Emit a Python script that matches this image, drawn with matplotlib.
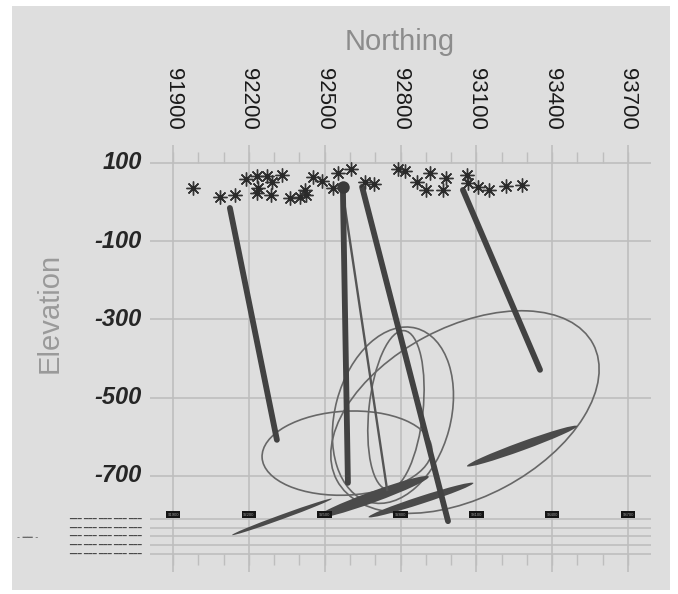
import matplotlib
matplotlib.use("Agg")
import matplotlib.pyplot as plt
from matplotlib.patches import Circle, Rectangle
from matplotlib.transforms import Affine2D

plt.rcParams["font.family"] = ["Liberation Sans", "DejaVu Sans"]

BG = "#DEDEDE"
GRID = "#BEBEBE"
DARK = "#424242"
THIN = "#676767"

# section axes
x_ticks = [91900, 92200, 92500, 92800, 93100, 93400, 93700]
x_minor = [91900 + 100 * k for k in range(19)]
y_ticks = [100, -100, -300, -500, -700]
y_lower = [-810, -833, -855, -878, -900]

# collar / surface points (northing, elevation)
pt_n = [91979, 92086, 92145, 92189, 92232, 92272, 92292, 92331, 92236, 92232,
        92288, 92363, 92402, 92422, 92426, 92454, 92489, 92533, 92553, 92604,
        92659, 92695, 92790, 92818, 92917, 92865, 92901, 92980, 92968, 93063,
        93067, 93106, 93150, 93217, 93281]
pt_z = [36, 13, 18, 59, 67, 67, 51, 69, 36, 23,
        18, 10, 13, 31, 18, 64, 54, 36, 74, 85,
        51, 46, 85, 80, 74, 51, 31, 62, 31, 69,
        49, 39, 31, 41, 44]

# drill traces: start / end
hole_n0 = [92125, 92572, 92648, 93047]
hole_z0 = [-15, 39, 39, 31]
hole_n1 = [92311, 92592, 92988, 93352]
hole_z1 = [-608, -718, -816, -429]

# thin trace
trace_n = [92580, 92747]
trace_z = [-13, -736]

# error ellipses: centre, semi-axes (northing units, true scale), angle
ell_n = [92588, 92782, 92770, 93055]
ell_z = [-642, -532, -545, -537]
ell_a = [336, 316, 356, 574]
ell_b = [166, 107, 229, 336]
ell_ang = [3, 84, 75, 28]

# flat discs seen edge-on
disc_n = [92331, 92691, 92881, 93281]
disc_z = [-805, -754, -762, -624]
disc_a = [210, 235, 218, 232]
disc_b = [9, 22, 15, 17]
disc_ang = [20, 20, 18, 20]

VE = 1.547  # vertical exaggeration of the section

fig = plt.figure(figsize=(6.78, 5.94), dpi=100)
fig.patch.set_facecolor("white")
fig.patches.append(Rectangle((12 / 678, 1 - 590 / 594), 658 / 678, 584 / 594,
                             transform=fig.transFigure, facecolor=BG,
                             edgecolor="none", zorder=-10))

ax = fig.add_axes([150 / 678, 1 - 572 / 594, 501 / 678, 427 / 594])
ax.patch.set_alpha(0)
ax.set_xlim(91809, 93791)
ax.set_ylim(-946, 146)
for s in ax.spines.values():
    s.set_visible(False)
ax.set_xticks([])
ax.set_yticks([])

# grid
for y in y_ticks + y_lower:
    ax.axhline(y, color=GRID, lw=1.2, zorder=1)
for x in x_ticks:
    ax.axvline(x, color=GRID, lw=1.2, zorder=1)
ax.vlines(x_minor, 100, 128, color=GRID, lw=1.0, zorder=1)
ax.vlines(x_minor, -928, -900, color=GRID, lw=1.0, zorder=1)

# tick labels
xt = ax.get_xaxis_transform()
for x in x_ticks:
    ax.text(x, 1.035, str(x), transform=xt, rotation=-90, ha="center",
            va="bottom", fontsize=16, color="#1A1A1A")
yt = ax.get_yaxis_transform()
for y in y_ticks:
    ax.text(-0.016, y, str(y), transform=yt, ha="right", va="center",
            fontsize=17, fontweight="bold", fontstyle="italic", color="#262626")
for y in y_lower:
    ax.text(-0.016, y, "━━━ ━━━ ━━━ ━━━ ━━━", transform=yt, ha="right",
            va="center", fontsize=5, family="DejaVu Sans", color="#4A4A4A")
for x in x_ticks:
    ax.text(x, -800, str(x), ha="center", va="center", fontsize=3,
            color="#9A9A9A", zorder=6,
            bbox=dict(facecolor="#151515", edgecolor="none", pad=1.1))

fig.text(400 / 678, 1 - 42 / 594, "Northing", ha="center", va="center",
         fontsize=21, color="#8C8C8C")
fig.text(50 / 678, 1 - 313 / 594, "Elevation", ha="center", va="center",
         rotation=90, fontsize=21, color="#9A9A9A")
fig.text(28 / 678, 1 - 537 / 594, "- ━━ -", ha="center", va="center",
         fontsize=6, family="DejaVu Sans", color="#6A6A6A")


def shape(n, z, a, b, ang, **kw):
    tr = Affine2D().scale(a, b).rotate_deg(ang).scale(1, 1 / VE).translate(n, z)
    ax.add_patch(Circle((0, 0), 1, transform=tr + ax.transData, **kw))


for n, z, a, b, ang in zip(ell_n, ell_z, ell_a, ell_b, ell_ang):
    shape(n, z, a, b, ang, facecolor="none", edgecolor=THIN, lw=1.2, zorder=3)
for n, z, a, b, ang in zip(disc_n, disc_z, disc_a, disc_b, disc_ang):
    shape(n, z, a, b, ang, facecolor="#4B4B4B", edgecolor="none", zorder=4)

ax.plot(trace_n, trace_z, color="#555555", lw=1.7, zorder=4)
for n0, z0, n1, z1 in zip(hole_n0, hole_z0, hole_n1, hole_z1):
    ax.plot([n0, n1], [z0, z1], color=DARK, lw=4.2, solid_capstyle="round",
            zorder=5)

ax.plot(pt_n, pt_z, ls="none", marker=(8, 2, 0), ms=10, mew=1.0,
        mec="#353535", zorder=6)
ax.plot(pt_n, pt_z, ls="none", marker="o", ms=4, mfc="#2A2A2A",
        mec="none", zorder=6)
ax.plot([hole_n0[1]], [hole_z0[1]], marker="o", ms=9, mfc="#3A3A3A",
        mec="none", zorder=6)

fig.savefig("out.png", dpi=100, facecolor="white")
